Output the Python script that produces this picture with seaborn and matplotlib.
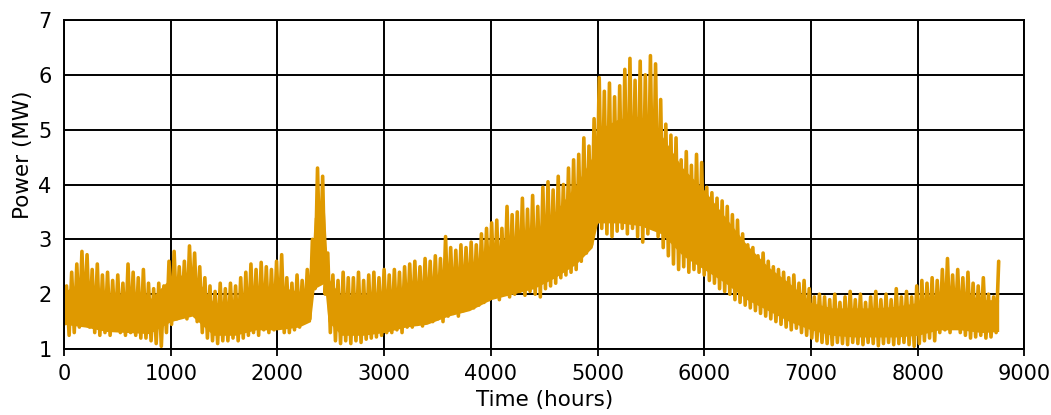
import numpy as np
import pandas as pd
import matplotlib
matplotlib.use("Agg")
import matplotlib.pyplot as plt
import seaborn as sns

# Two-day extremes: trough at hour 48*i, peak at hour 48*i+24 (MW)
peak_mw = [
    2.15, 2.40, 2.55, 2.78,  2.72, 2.45, 2.55, 2.35,  2.40, 2.25, 2.35, 2.20,
    2.55, 2.40, 2.30, 2.45,  2.20, 2.10, 2.20, 2.15,  2.60, 2.78, 2.50, 2.60,
    2.88, 2.75, 2.50, 2.30,  2.15, 2.05, 2.20, 2.10,  2.20, 2.15, 2.30, 2.40,
    2.55, 2.45, 2.58, 2.50,  2.45, 2.60, 2.72, 2.30,  2.20, 2.35, 2.25, 2.45,
    3.00, 4.30, 4.15, 2.75,  2.35, 2.25, 2.40, 2.30,  2.30, 2.40, 2.25, 2.35,
    2.40, 2.30, 2.45, 2.35,  2.45, 2.40, 2.50, 2.55,  2.60, 2.50, 2.65, 2.60,
    2.70, 2.65, 3.05, 2.85,  2.80, 2.90, 2.85, 2.95,  2.90, 3.10, 3.20, 3.30,
    3.35, 3.20, 3.60, 3.45,  3.50, 3.75, 3.55, 3.80,  3.60, 3.95, 4.05, 3.90,
    4.15, 4.00, 4.30, 4.45,  4.55, 4.85, 4.70, 5.20,  5.95, 5.70, 5.85, 5.60,
    5.80, 6.10, 6.30, 5.90,  6.25, 6.00, 6.35, 6.20,  5.55, 5.10, 4.90, 4.85,
    4.45, 4.60, 4.35, 4.55,  4.40, 3.95, 3.85, 3.75,  3.70, 3.60, 3.45, 3.35,
    3.10, 2.90, 2.85, 2.70,  2.75, 2.60, 2.50, 2.45,  2.40, 2.30, 2.35, 2.20,
    2.25, 2.10, 1.95, 2.00,  1.95, 1.90, 2.00, 1.85,  1.95, 2.05, 1.90, 2.00,
    1.85, 1.95, 2.05, 1.90,  2.00, 1.90, 2.10, 1.95,  2.05, 1.95, 2.15, 2.25,
    2.20, 2.30, 2.25, 2.45,  2.65, 2.35, 2.45, 2.30,  2.40, 2.20, 2.15, 2.30,
    2.00, 1.95, 2.60,
]
trough_mw = [
    1.45, 1.25, 1.30, 1.40,  1.55, 1.40, 1.30, 1.25,  1.30, 1.25, 1.35, 1.30,
    1.25, 1.30, 1.25, 1.20,  1.20, 1.15, 1.10, 1.05,  1.30, 1.45, 1.55, 1.60,
    1.55, 1.70, 1.50, 1.30,  1.20, 1.15, 1.10, 1.15,  1.15, 1.20, 1.15, 1.20,
    1.25, 1.30, 1.25, 1.35,  1.30, 1.35, 1.40, 1.30,  1.30, 1.35, 1.40, 1.50,
    1.55, 2.10, 2.40, 2.00,  1.30, 1.15, 1.10, 1.15,  1.10, 1.15, 1.12, 1.18,
    1.20, 1.22, 1.25, 1.30,  1.30, 1.35, 1.30, 1.40,  1.40, 1.45, 1.42, 1.50,
    1.50, 1.55, 1.50, 1.60,  1.65, 1.60, 1.70, 1.75,  1.75, 1.80, 1.85, 1.90,
    1.95, 1.90, 2.00, 1.95,  2.00, 2.05, 1.98, 2.05,  2.00, 1.95, 2.10, 2.15,
    2.20, 2.30, 2.35, 2.40,  2.45, 2.60, 2.75, 2.90,  3.30, 3.20, 3.10, 3.05,
    3.15, 3.20, 3.10, 3.20,  3.05, 2.95, 3.10, 3.20,  3.05, 2.85, 2.70, 2.55,
    2.45, 2.50, 2.40, 2.45,  2.40, 2.35, 2.25, 2.20,  2.10, 2.05, 2.00, 1.90,
    1.85, 1.80, 1.75, 1.70,  1.65, 1.60, 1.55, 1.50,  1.45, 1.40, 1.35, 1.38,
    1.30, 1.25, 1.20, 1.15,  1.12, 1.10, 1.08, 1.12,  1.10, 1.08, 1.12, 1.10,
    1.08, 1.12, 1.10, 1.06,  1.10, 1.12, 1.08, 1.10,  1.12, 1.08, 1.05, 1.10,
    1.15, 1.20, 1.15, 1.30,  1.35, 1.30, 1.40, 1.30,  1.25, 1.20, 1.22, 1.25,
    1.20, 1.22, 1.30,
]
step_hours = 24

# Solid core of the band (MW)
core_hours = [0, 200, 400, 600, 800, 1000, 1200, 1400, 1600, 1800, 2000, 2200,
              2310, 2345, 2440, 2475, 2600, 2800, 3000, 3200, 3400, 3600, 3800,
              4000, 4200, 4400, 4600, 4800, 4950, 5000, 5200, 5400, 5600, 5800,
              6000, 6200, 6400, 6600, 6800, 7000, 7200, 7400, 7600, 7800, 8000,
              8200, 8400, 8600, 8760]
core_low = [1.45, 1.40, 1.32, 1.30, 1.28, 1.50, 1.60, 1.25, 1.25, 1.35, 1.35, 1.40,
            1.50, 2.10, 2.20, 1.50, 1.25, 1.25, 1.30, 1.40, 1.45, 1.60, 1.70,
            1.90, 2.00, 2.10, 2.30, 2.55, 2.85, 3.30, 3.30, 3.25, 3.10, 2.70,
            2.45, 2.20, 1.90, 1.70, 1.50, 1.35, 1.25, 1.22, 1.22, 1.22, 1.25,
            1.35, 1.35, 1.30, 1.32]
core_high = [2.05, 2.25, 2.00, 1.95, 1.90, 2.30, 2.40, 1.85, 1.80, 2.05, 2.15, 2.05,
             2.15, 3.40, 3.55, 2.30, 1.95, 1.95, 2.00, 2.10, 2.20, 2.35, 2.45,
             2.65, 2.85, 3.10, 3.50, 4.00, 4.50, 5.00, 5.20, 5.25, 4.90, 4.30,
             3.90, 3.40, 2.90, 2.50, 2.20, 1.85, 1.75, 1.75, 1.75, 1.78, 1.85,
             2.00, 2.05, 1.90, 1.90]

x_ticks = [0, 1000, 2000, 3000, 4000, 5000, 6000, 7000, 8000, 9000]
y_ticks = [1, 2, 3, 4, 5, 6, 7]
orange = "#DF9900"

n = len(peak_mw)
hours = np.arange(2 * n) * step_hours
power = np.column_stack([trough_mw, peak_mw]).ravel()
df = pd.DataFrame({"hour": hours, "power": power})

sns.set_theme(style="white")
plt.rcParams["font.family"] = ["DejaVu Sans"]

fig = plt.figure(figsize=(10.51, 4.15), dpi=100)
ax = fig.add_axes([0.0609, 0.159, 0.9137, 0.7928])
ax.set_axisbelow(True)
ax.grid(True, color="black", linewidth=1.4, zorder=0)

ax.fill_between(core_hours, core_low, core_high, color=orange, linewidth=0, zorder=2)
sns.lineplot(data=df, x="hour", y="power", color=orange, linewidth=2.6,
             estimator=None, ax=ax, zorder=3)

ax.set_xlim(0, 9000)
ax.set_ylim(1, 7)
ax.set_xticks(x_ticks)
ax.set_yticks(y_ticks)
ax.tick_params(axis="x", direction="out", length=5, width=1.3, color="black",
               labelsize=15, pad=6, labelcolor="black", bottom=True)
ax.tick_params(axis="y", length=0, labelsize=15, pad=9, labelcolor="black", left=True)
for s in ax.spines.values():
    s.set_color("black")
    s.set_linewidth(1.4)
    s.set_zorder(5)

ax.set_xlabel("Time (hours)", fontsize=15.5, color="black", labelpad=4)
ax.set_ylabel("Power (MW)", fontsize=15.5, color="black")
ax.yaxis.set_label_coords(-0.032, 0.59)

fig.savefig("out.png", dpi=100, facecolor="white")
